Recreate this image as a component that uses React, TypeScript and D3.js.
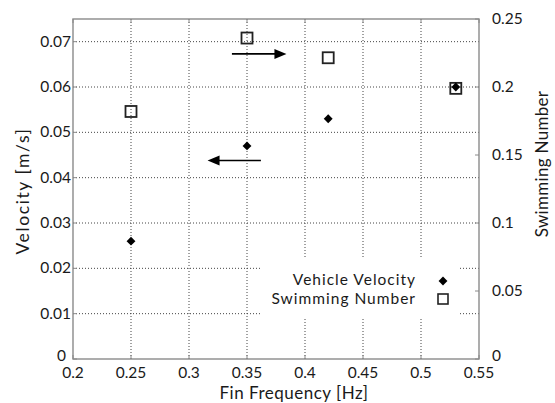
import React, { useEffect, useRef } from 'react';
import * as d3 from 'd3';

// fin frequency [Hz]
const frequency = [0.25, 0.35, 0.42, 0.53];
// vehicle velocity [m/s], left axis
const velocity = [0.026, 0.047, 0.053, 0.06];
// swimming number, right axis
const swimming = [0.182, 0.236, 0.2215, 0.199];

const xTicks = [0.2, 0.25, 0.3, 0.35, 0.4, 0.45, 0.5, 0.55];
const leftTicks = [0, 0.01, 0.02, 0.03, 0.04, 0.05, 0.06, 0.07];
const rightTicks = [0, 0.05, 0.1, 0.15, 0.2, 0.25];

const legendLabels = ['Vehicle Velocity', 'Swimming Number'];

// arrows in data units (x1, x2, velocity)
const arrows = [
  { from: 0.337, to: 0.384, y: 0.0673 },
  { from: 0.362, to: 0.316, y: 0.0438 },
];

const width = 555;
const height = 403;
const margin = { top: 19, right: 76, bottom: 44, left: 73 };
const font = 'Lato, "Open Sans", sans-serif';

export default function App() {
  const ref = useRef<SVGSVGElement>(null);

  useEffect(() => {
    const svg = d3.select(ref.current);
    svg.selectAll('*').remove();

    const x = d3.scaleLinear().domain([0.2, 0.55]).range([margin.left, width - margin.right]);
    const yL = d3.scaleLinear().domain([0, 0.075]).range([height - margin.bottom, margin.top]);
    const yR = d3.scaleLinear().domain([0, 0.25]).range([height - margin.bottom, margin.top]);

    const x0 = x.range()[0], x1 = x.range()[1];
    const y0 = yL.range()[0], y1 = yL.range()[1];
    const frame = '#8a8a8a';

    svg.append('rect').attr('width', width).attr('height', height).attr('fill', '#fff');

    // grid
    const grid = svg.append('g')
      .attr('stroke', '#444')
      .attr('stroke-width', 1)
      .attr('stroke-dasharray', '1,2');
    grid.selectAll('.gx')
      .data(xTicks.slice(1, -1))
      .enter()
      .append('line')
      .attr('x1', d => x(d)).attr('x2', d => x(d))
      .attr('y1', y0).attr('y2', y1);
    grid.selectAll('.gy')
      .data(leftTicks.slice(1))
      .enter()
      .append('line')
      .attr('x1', x0).attr('x2', x1)
      .attr('y1', d => yL(d)).attr('y2', d => yL(d));

    // legend background hides grid
    svg.append('rect')
      .attr('x', 260).attr('y', 258)
      .attr('width', 200).attr('height', 60)
      .attr('fill', '#fff');

    // frame
    svg.append('rect')
      .attr('x', x0).attr('y', y1)
      .attr('width', x1 - x0).attr('height', y0 - y1)
      .attr('fill', 'none')
      .attr('stroke', frame)
      .attr('stroke-width', 1.4);

    const ticks = svg.append('g').attr('stroke', frame).attr('stroke-width', 1);
    xTicks.forEach(t => {
      ticks.append('line').attr('x1', x(t)).attr('x2', x(t)).attr('y1', y0).attr('y2', y0 - 4);
      ticks.append('line').attr('x1', x(t)).attr('x2', x(t)).attr('y1', y1).attr('y2', y1 + 4);
    });
    leftTicks.forEach(t => {
      ticks.append('line').attr('x1', x0).attr('x2', x0 + 4).attr('y1', yL(t)).attr('y2', yL(t));
    });
    rightTicks.forEach(t => {
      ticks.append('line').attr('x1', x1).attr('x2', x1 - 4).attr('y1', yR(t)).attr('y2', yR(t));
    });

    const txt = svg.append('g')
      .attr('font-family', font)
      .attr('font-size', 15.5)
      .attr('fill', '#1a1a1a');

    txt.selectAll('.xl')
      .data(xTicks)
      .enter()
      .append('text')
      .attr('x', d => x(d))
      .attr('y', y0 + 19)
      .attr('text-anchor', 'middle')
      .text(d => String(d));

    txt.selectAll('.yl')
      .data(leftTicks)
      .enter()
      .append('text')
      .attr('x', d => (d === 0 ? x0 - 7 : x0 - 2))
      .attr('y', d => yL(d) + (d === 0 ? 2 : 5))
      .attr('text-anchor', 'end')
      .text(d => String(d));

    txt.selectAll('.yr')
      .data(rightTicks)
      .enter()
      .append('text')
      .attr('x', x1 + 13)
      .attr('y', d => yR(d) + (d === 0 ? 2 : 5))
      .attr('text-anchor', 'start')
      .text(d => String(d));

    const lab = svg.append('g')
      .attr('font-family', font)
      .attr('font-size', 17)
      .attr('fill', '#1a1a1a');

    lab.append('text')
      .attr('x', 294)
      .attr('y', 399)
      .attr('text-anchor', 'middle')
      .attr('letter-spacing', 0.5)
      .text('Fin Frequency [Hz]');

    lab.append('text')
      .attr('transform', 'translate(29,191) rotate(-90)')
      .attr('text-anchor', 'middle')
      .attr('font-size', 17.5)
      .attr('letter-spacing', 1.6)
      .text('Velocity [m/s]');

    lab.append('text')
      .attr('transform', 'translate(548,164) rotate(-90)')
      .attr('text-anchor', 'middle')
      .attr('letter-spacing', 0.3)
      .text('Swimming Number');

    // markers
    const diamond = d3.symbol().type(d3.symbolDiamond2).size(50);
    svg.selectAll('.sq')
      .data(frequency)
      .enter()
      .append('rect')
      .attr('x', d => x(d) - 5.5)
      .attr('y', (d, i) => yR(swimming[i]) - 5.5)
      .attr('width', 11).attr('height', 11)
      .attr('fill', 'none')
      .attr('stroke', '#222')
      .attr('stroke-width', 1.8);

    svg.selectAll('.dm')
      .data(frequency)
      .enter()
      .append('path')
      .attr('d', diamond)
      .attr('transform', (d, i) => `translate(${x(d)},${yL(velocity[i])})`)
      .attr('fill', '#000');

    // arrows
    arrows.forEach(a => {
      const dir = a.to > a.from ? 1 : -1;
      const xe = x(a.to), yy = yL(a.y);
      svg.append('line')
        .attr('x1', x(a.from)).attr('x2', xe - dir * 8)
        .attr('y1', yy).attr('y2', yy)
        .attr('stroke', '#000').attr('stroke-width', 1.6);
      svg.append('path')
        .attr('d', d3.line()([[xe, yy], [xe - dir * 12, yy - 5], [xe - dir * 12, yy + 5]]) + 'Z')
        .attr('fill', '#000');
    });

    // legend
    const lg = svg.append('g')
      .attr('font-family', font)
      .attr('font-size', 15.5)
      .attr('letter-spacing', 1)
      .attr('fill', '#1a1a1a');
    legendLabels.forEach((l, i) => {
      lg.append('text')
        .attr('x', 416)
        .attr('y', 285 + i * 19)
        .attr('text-anchor', 'end')
        .text(l);
    });
    svg.append('path')
      .attr('d', diamond)
      .attr('transform', 'translate(443,281)')
      .attr('fill', '#000');
    svg.append('rect')
      .attr('x', 438).attr('y', 294)
      .attr('width', 10).attr('height', 10)
      .attr('fill', 'none')
      .attr('stroke', '#222')
      .attr('stroke-width', 1.6);
  }, []);

  return (
    <svg
      ref={ref}
      width={width}
      height={height}
      style={{ position: 'absolute', left: 0, top: 0, display: 'block' }}
    />
  );
}
